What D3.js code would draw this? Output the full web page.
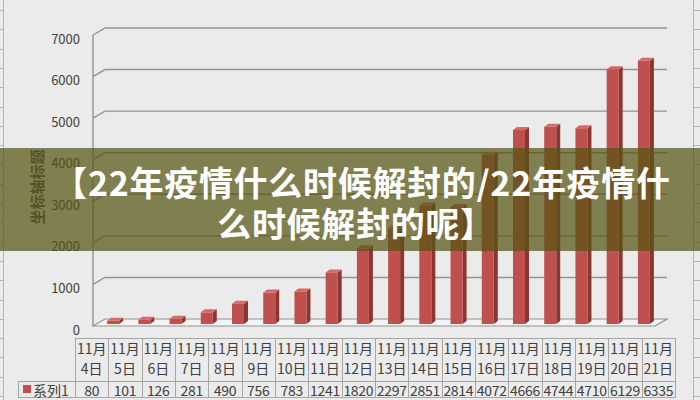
<!DOCTYPE html>
<html><head><meta charset="utf-8">
<script src="https://cdn.jsdelivr.net/npm/d3@7"></script>
<style>body{margin:0;background:#ebebeb;overflow:hidden}</style>
</head><body><svg id="c" width="700" height="400"></svg>
<script>
const monthLabel = "11月";
const days = ["4日","5日","6日","7日","8日","9日","10日","11日","12日","13日","14日","15日","16日","17日","18日","19日","20日","21日"];
const values = [80,101,126,281,490,756,783,1241,1820,2297,2851,2814,4072,4666,4744,4710,6129,6335];
const yTicks = [0,1000,2000,3000,4000,5000,6000,7000];
const seriesName = "系列1";
const axisTitle = "坐标轴标题";
const bannerLines = ["【22年疫情什么时候解封的/22年疫情什","么时候解封的呢】"];

const svg = d3.select("#c");
const font = "'Noto Sans CJK SC','Noto Sans',sans-serif";
svg.append("rect").attr("width",700).attr("height",400).attr("fill","#ebebeb");

// spreadsheet edges
const edge = svg.append("g").attr("stroke","#b4b4b4").attr("stroke-width",1);
edge.append("line").attr("x1",3.5).attr("x2",3.5).attr("y1",0).attr("y2",400);
edge.append("line").attr("x1",693.5).attr("x2",693.5).attr("y1",0).attr("y2",400);
d3.range(10,400,19.3).forEach(y=>{
  edge.append("line").attr("x1",0).attr("x2",3).attr("y1",Math.round(y)+0.5).attr("y2",Math.round(y)+0.5);
  edge.append("line").attr("x1",694).attr("x2",700).attr("y1",Math.round(y)+0.5).attr("y2",Math.round(y)+0.5);
});

const DX = 12, DY = 7;
const x = d3.scaleBand().domain(d3.range(values.length)).range([93,655]).paddingInner(0);
const yB = d3.scaleLinear().domain([0,7000]).range([319,28]);

// floor
svg.append("polygon")
  .attr("points",[[93,yB(0)+DY],[93+DX,yB(0)],[655+DX,yB(0)],[655,yB(0)+DY]].map(p=>p.join(",")).join(" "))
  .attr("fill","#f3f3f3").attr("stroke","#939393").attr("stroke-width",1.2);

// gridlines
svg.append("g").selectAll("path").data(yTicks.filter(d=>d>0)).join("path")
  .attr("d",d=>`M93,${yB(d)+DY}L${93+DX},${yB(d)}L${655+DX},${yB(d)}`)
  .attr("fill","none").attr("stroke","#939393").attr("stroke-width",1.4);
// front axis line
svg.append("line").attr("x1",93).attr("x2",93).attr("y1",yB(7000)+DY).attr("y2",yB(0)+DY)
  .attr("stroke","#939393").attr("stroke-width",1.4);

// y labels
svg.append("g").selectAll("text").data(yTicks).join("text")
  .attr("x",80).attr("y",d=>yB(d)+DY+3).attr("text-anchor","end").attr("dominant-baseline","central")
  .attr("font-family",font).attr("font-size",13).attr("fill","#404040").text(d=>d);

// axis title
svg.append("text").attr("transform","translate(36,187) rotate(-90)")
  .attr("text-anchor","middle").attr("dominant-baseline","central")
  .attr("font-family",font).attr("font-size",15).attr("font-weight","bold").attr("fill","#505050").text(axisTitle);

// bars
const bw = 12, bdx = 4, bdy = 3;
const bars = svg.append("g");
values.forEach((v,i)=>{
  const fx = x(i) + x.bandwidth()/2 - 1.5;
  const ym = yB(v) + 3.5;
  const top = ym + 1.5, base = yB(0) + 3.5 + 1.5;
  bars.append("polygon").attr("points",[[fx+bw,base],[fx+bw+bdx,base-bdy],[fx+bw+bdx,top-bdy],[fx+bw,top]].map(p=>p.join(",")).join(" "))
    .attr("fill","#8c3634");
  bars.append("rect").attr("x",fx).attr("y",top).attr("width",bw).attr("height",base-top).attr("fill","#c0504d");
  bars.append("polygon").attr("points",[[fx,top],[fx+bdx,top-bdy],[fx+bw+bdx,top-bdy],[fx+bw,top]].map(p=>p.join(",")).join(" "))
    .attr("fill","#d46b68");
});

// data table
const tx0 = 75, cw = 600/values.length, r0 = 338, r1 = 381, r2 = 398;
const tb = svg.append("g");
const tl = (x1,y1,x2,y2)=>tb.append("line").attr("x1",x1).attr("y1",y1).attr("x2",x2).attr("y2",y2).attr("stroke","#a6a6a6").attr("stroke-width",1);
tl(tx0,r0+0.5,675,r0+0.5);
tl(18,r1+0.5,675,r1+0.5);
tl(18,r2-0.5,675,r2-0.5);
tl(18.5,r1,18.5,r2);
d3.range(values.length+1).forEach(i=>{ const xx = Math.round(tx0+i*cw)+0.5; tl(xx,r0,xx,r2); });
const tt = svg.append("g").attr("font-family",font).attr("font-size",14).attr("fill","#404040").attr("text-anchor","middle").attr("dominant-baseline","central");
days.forEach((d,i)=>{
  const cx = tx0 + (i+0.5)*cw;
  tt.append("text").attr("x",cx).attr("y",348).text(monthLabel);
  tt.append("text").attr("x",cx).attr("y",368).text(d);
  tt.append("text").attr("x",cx).attr("y",389.5).attr("letter-spacing",-0.3).text(values[i]);
});
svg.append("rect").attr("x",23).attr("y",385).attr("width",8).attr("height",8).attr("fill","#c0504d");
svg.append("text").attr("x",33).attr("y",389.5).attr("dominant-baseline","central")
  .attr("font-family",font).attr("font-size",14).attr("fill","#404040").text(seriesName);

// banner overlay
svg.append("rect").attr("x",0).attr("y",148).attr("width",700).attr("height",103)
  .attr("fill","rgb(86,84,20)").attr("fill-opacity",0.72);
const bt = svg.append("g").attr("font-family",font).attr("font-size",34).attr("font-weight","bold")
  .attr("fill","#ffffff").attr("text-anchor","middle").attr("dominant-baseline","central")
  .attr("letter-spacing",0.7);
bt.append("text").attr("x",362).attr("y",181).text(bannerLines[0]);
bt.append("text").attr("x",356).attr("y",222.5).text(bannerLines[1]);
</script></body></html>
